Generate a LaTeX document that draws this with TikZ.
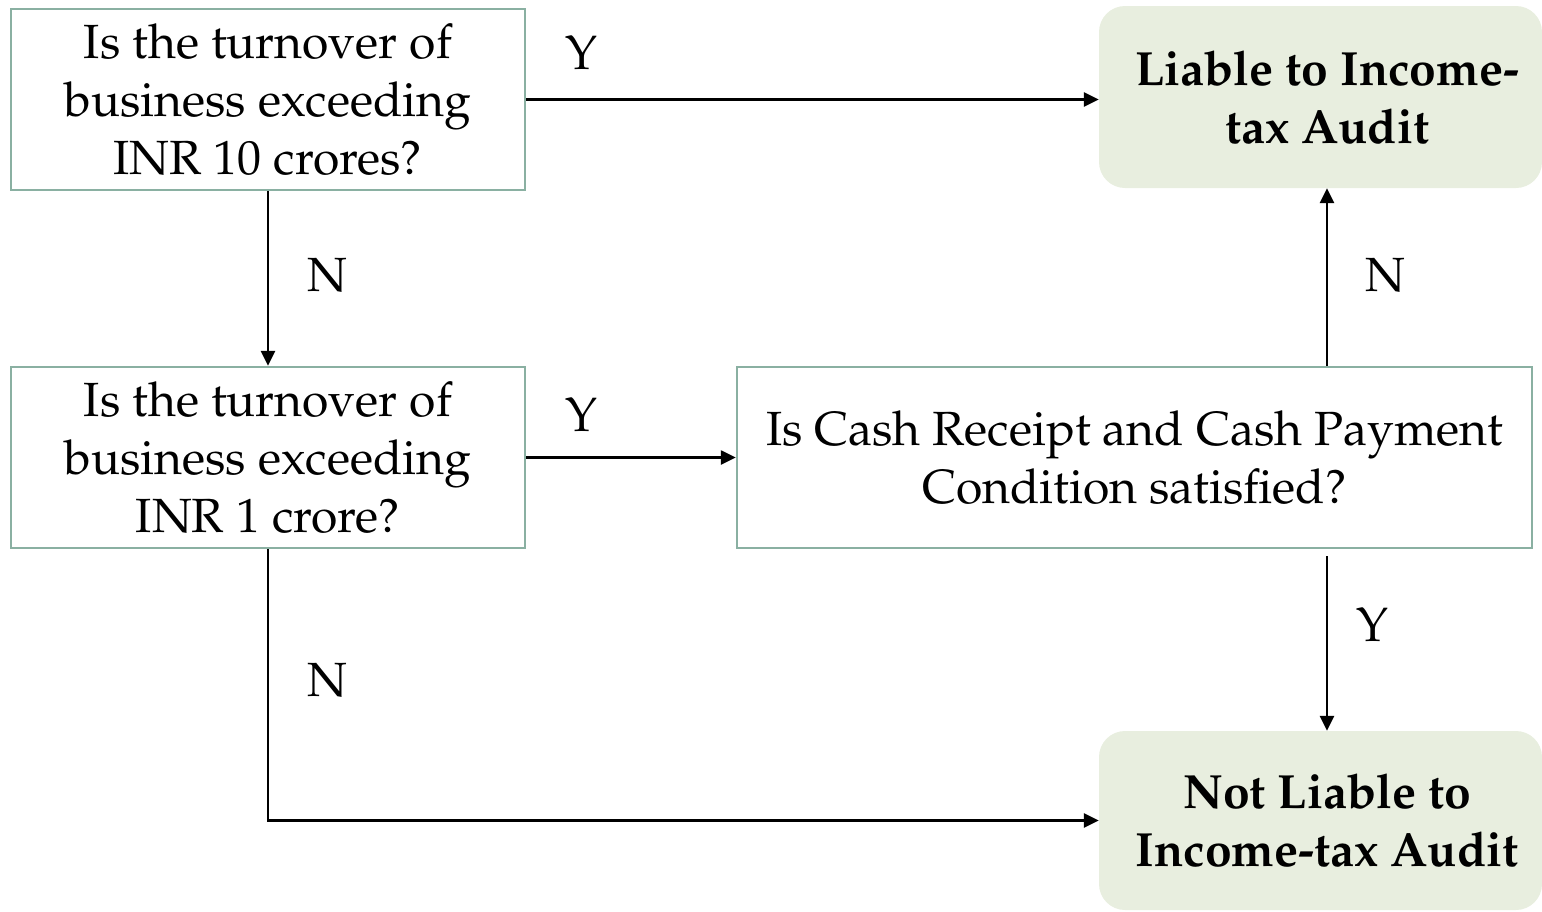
\documentclass[tikz,border=0pt]{standalone}
\usepackage[T1]{fontenc}
\usepackage{mathpazo}
\usetikzlibrary{arrows.meta}
\definecolor{bordc}{HTML}{8AB0A2}
\definecolor{greenfill}{HTML}{E8EEDF}
\begin{document}
\begin{tikzpicture}[x=1pt,y=-1pt,
  txt/.style={font=\fontsize{48}{58}\selectfont},
  qbox/.style={txt, draw=bordc, line width=2.5pt, align=center, inner sep=0pt},
  gbox/.style={font=\fontsize{48}{58}\selectfont\bfseries, fill=greenfill, rounded corners=26pt, align=center, inner sep=0pt},
  arr/.style={line width=2.6pt, -{Triangle[length=15pt,width=14pt]}},
  lbl/.style={txt, inner sep=0pt}]
\useasboundingbox (0,0) rectangle (1542,911);
\node[qbox, minimum width=514pt, minimum height=181pt] (A) at (268,99.5)
  {Is the turnover of\\business exceeding\\INR 10 crores?};
\node[qbox, minimum width=514pt, minimum height=181pt] (B) at (268,457.5)
  {Is the turnover of\\business exceeding\\INR 1 crore?};
\node[qbox, minimum width=795pt, minimum height=181pt] (C) at (1134.5,457.5)
  {Is Cash Receipt and Cash Payment\\Condition satisfied?};
\node[gbox, minimum width=443pt, minimum height=182pt] (L) at (1320.5,97)
  {\hspace*{13pt}Liable to Income-\\\hspace*{13pt}tax Audit};
\node[gbox, minimum width=443pt, minimum height=179pt] (NL) at (1320.5,820.5)
  {\hspace*{13pt}Not Liable to\\\hspace*{13pt}Income-tax Audit};
\coordinate (cx) at (1327,0);
\draw[arr] (A.east) -- (A.east -| L.west);
\draw[arr] (A.south) -- (B.north);
\draw[arr] (B.east) -- (C.west);
\draw[arr] (C.north -| cx) -- (L.south -| cx);
\draw[arr, shorten <=7pt] (C.south -| cx) -- (NL.north -| cx);
\draw[arr] (B.south) |- (NL.west);
\node[lbl] (y1) at (582,53) {Y};
\node[lbl] (n1) at (327,275) {N};
\node[lbl] (y2) at (582,415) {Y};
\node[lbl] (n2) at (1385,275) {N};
\node[lbl] (y3) at (1372,625) {Y};
\node[lbl] (n3) at (327,680) {N};
\end{tikzpicture}
\end{document}
